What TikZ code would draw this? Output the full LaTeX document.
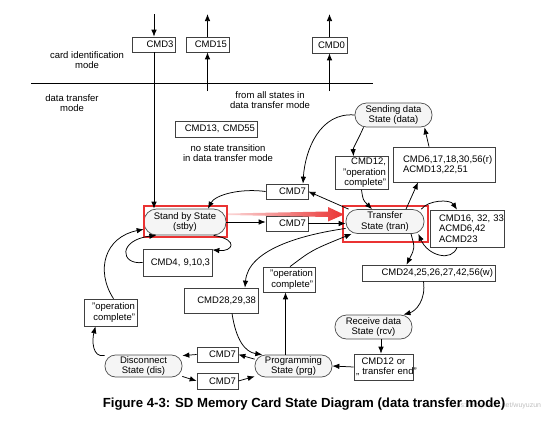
\documentclass[tikz,border=0pt]{standalone}
\usepackage{fontspec}
\setmainfont{Liberation Sans}
\usetikzlibrary{arrows.meta}
\definecolor{hired}{RGB}{234,51,51}
\begin{document}
\begin{tikzpicture}[x=1pt,y=-1pt,
  every node/.style={font=\fontsize{9.5}{10.5}\selectfont},
  box/.style={draw=black!75, line width=0.7pt, inner xsep=2pt, inner ysep=0pt, align=right},
  pill/.style={rectangle, rounded corners=11.5pt, draw=black!70, fill=black!4, line width=0.7pt, inner sep=0pt, align=center, minimum height=24pt},
  arr/.style={-{Latex[length=7pt,width=5.5pt]}, line width=0.75pt},
  ln/.style={line width=0.75pt},
  hi/.style={draw=hired, line width=1.6pt}]
\useasboundingbox (0,0) rectangle (550,424);

% texts
\node[align=center] (tcard) at (87,60) {card identification\\mode};
\node[align=center] (tdata) at (72,103) {data transfer\\mode};
\node[align=center] (tfrom) at (270,100) {from all states in\\data transfer mode};
\node[align=center] (tnos) at (228,153) {no state transition\\in data transfer mode};

% boxes
\node[box, text width=39pt, minimum height=15pt] (cmd3) at (154,44.5) {CMD3};
\node[box, text width=39pt, minimum height=15pt] (cmd15) at (207.5,44.5) {CMD15};
\node[box, text width=31pt, minimum height=16pt] (cmd0) at (329.5,45) {CMD0};
\node[box, text width=78pt, minimum height=16pt] (cmd13) at (216,129) {CMD13, CMD55};
\node[box, text width=38pt, minimum height=15pt] (cmd7a) at (287,191.5) {CMD7};
\node[box, text width=38pt, minimum height=15pt] (cmd7b) at (287,223.5) {CMD7};
\node[box, text width=49pt, minimum height=33pt] (cmd12) at (361.5,173) {CMD12,\\"operation\\complete"};
\node[box, align=left, inner xsep=10pt, text width=82pt, minimum height=35pt] (cmd6) at (444,164.5) {\mbox{CMD6,17,18,30,56(r)}\\ACMD13,22,51};
\node[box, align=left, inner xsep=9pt, text width=56pt, minimum height=37pt] (cmd16) at (467,228.5) {\mbox{CMD16, 32, 33}\\ACMD6,42\\ACMD23};
\node[box, text width=129pt, minimum height=16pt] (cmd24) at (428.5,273) {CMD24,25,26,27,42,56(w)};
\node[box, align=center, text width=55pt, minimum height=26pt] (cmd12b) at (383.5,367) {CMD12 or\\\mbox{„ transfer end"}};
\node[box, text width=48pt, minimum height=25pt] (opc1) at (289,279.5) {"operation\\complete"};
\node[box, text width=49pt, minimum height=27pt] (opc0) at (110.5,312.5) {"operation\\complete"};
\node[box, text width=70pt, minimum height=25pt] (cmd28) at (221,300.5) {CMD28,29,38};
\node[box, text width=65pt, minimum height=27pt] (cmd4) at (177.5,262.5) {CMD4, 9,10,3};
\node[box, text width=37pt, minimum height=15pt] (cmd7c) at (217.5,354.5) {CMD7};
\node[box, text width=37pt, minimum height=16pt] (cmd7d) at (217.5,381) {CMD7};

% states
\node[pill, minimum width=82pt, minimum height=26pt, rounded corners=12.5pt] (stby) at (185,222) {Stand by State\\(stby)};
\node[pill, minimum width=78pt] (tran) at (385,221.5) {Transfer\\State (tran)};
\node[pill, minimum width=77pt] (data) at (393.5,115) {Sending data\\State (data)};
\node[pill, minimum width=77pt] (rcv) at (373.5,327) {Receive data\\State (rcv)};
\node[pill, minimum width=77pt, minimum height=22pt, rounded corners=10.5pt] (prg) at (293.5,366) {Programming\\State (prg)};
\node[pill, minimum width=77pt, minimum height=22pt, rounded corners=10.5pt] (dis) at (143.5,366) {Disconnect\\State (dis)};

% highlight
\draw[hi] (144,206) rectangle (227,237);
\draw[hi] (343,206) rectangle (428,242);
\shade[left color=hired!20, right color=hired] (228,213.5) -- (328,211.5) -- (328,207) -- (344,214.5) -- (328,221.5) -- (328,217) -- (228,215) -- cycle;

% top mode lines
\coordinate (h1) at (31,83);
\coordinate (h2) at (373,83);
\draw[ln] (h1) -- (h2);
\coordinate (t3) at (154,14);
\coordinate (t15) at (207.5,14);
\coordinate (b15) at (207.5,91);
\coordinate (t0) at (329.5,14);
\coordinate (b0) at (329.5,91);
\draw[arr] (t3) -- (cmd3.north);
\draw[arr] (cmd3.south) -- (cmd3.south |- stby.north);
\draw[arr] (b15) -- (cmd15.south);
\draw[arr] (cmd15.north) -- (t15);
\draw[arr] (b0) -- (cmd0.south);
\draw[arr] (cmd0.north) -- (t0);

% connectors
\draw[arr] (data.west) .. controls (320,112) and (305,150) .. ([xshift=16pt]cmd7a.north);
\draw[arr] ([xshift=-30pt]data.south) .. controls (358,140) and (353,148) .. ([xshift=-8pt]cmd12.north);
\draw[arr] (cmd12.south) .. controls (363,200) .. ([xshift=-13pt]tran.north);
\draw[arr] ([xshift=21pt]tran.north) -- ([xshift=-26pt]cmd6.south);
\draw[arr] ([xshift=-15pt]cmd6.north) -- ([xshift=31pt]data.south);
\draw[arr] ([xshift=-3pt]tran.north east) .. controls (428,200) and (450,199) .. ([xshift=-10pt]cmd16.north);
\draw[arr] ([xshift=-10pt]cmd16.south) .. controls (452,262) and (428,256) .. ([xshift=-6pt]tran.south east);
\draw[arr] ([xshift=26pt]tran.south) .. controls (415,248) .. ([xshift=-22pt]cmd24.north);
\draw[arr] ([xshift=-5pt]cmd24.south) .. controls (426,300) and (416,311) .. ([xshift=30pt]rcv.north);
\draw[arr] ([xshift=7.5pt]rcv.south) -- ([xshift=7.5pt]rcv.south |- cmd12b.north);
\draw[arr] (cmd12b.west) -- (prg.east);
\draw[arr] ([xshift=-8pt]prg.north) -- ([xshift=-8pt]prg.north |- opc1.south);
\draw[arr] ([xshift=1pt]opc1.north) .. controls (312,250) .. ([xshift=6pt]tran.south west);
\draw[arr] (tran.190) .. controls (300,235) and (248,250) .. ([xshift=24pt]cmd28.north);
\draw[arr] ([xshift=11pt]cmd28.south) .. controls (236,340) and (245,352) .. (prg.160);
\draw[arr] (prg.170) -- (cmd7c.east);
\draw[arr] (cmd7c.west) -- (dis.15);
\draw[arr] (dis.-15) -- (cmd7d.west);
\draw[arr] (cmd7d.east) -- (prg.-165);
\draw[arr] (dis.165) .. controls (92,358) and (92,340) .. ([xshift=-15pt]opc0.south);
\draw[arr] ([xshift=3pt]opc0.north) .. controls (95,270) and (105,237) .. (stby.190);
\draw[arr] (stby.-25) .. controls (240,240) and (232,252) .. (cmd4.20);
\draw[arr] (cmd4.west) .. controls (120,265) and (118,240) .. (stby.205);
\draw[arr] (stby.east) -- (stby.east -| cmd7b.west);
\draw[arr] (cmd7b.east) -- (cmd7b.east -| tran.west);
\draw[arr] ([xshift=3pt]tran.north west) -- (cmd7a.east);
\draw[arr] (cmd7a.west) .. controls (240,188) and (215,195) .. ([xshift=23pt]stby.north);

% caption
\node[text=black!25, font=\fontsize{7}{9}\selectfont] (wm) at (495,406) {https://blog.csdn.net/wuyuzun};
\node[font=\bfseries\fontsize{13.2}{15}\selectfont] (cap) at (304,404) {Figure 4-3: SD Memory Card State Diagram (data transfer mode)};
\end{tikzpicture}
\end{document}
